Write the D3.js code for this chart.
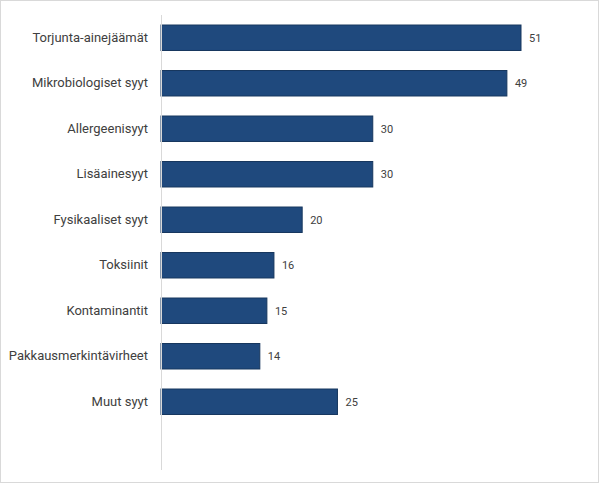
<!DOCTYPE html>
<html>
<head>
<meta charset="utf-8">
<script src="https://cdnjs.cloudflare.com/ajax/libs/d3/7.8.5/d3.min.js"></script>
<style>
  body { margin: 0; background: #fff; }
  text { font-family: Roboto, "Liberation Sans", sans-serif; }
</style>
</head>
<body>
<div id="chart"></div>
<script>
// categories and values, top to bottom
let categories = ["Torjunta-ainejäämät", "Mikrobiologiset syyt", "Allergeenisyyt", "Lisäainesyyt",
    "Fysikaaliset syyt", "Toksiinit", "Kontaminantit", "Pakkausmerkintävirheet", "Muut syyt"];
let values = [51, 49, 30, 30, 20, 16, 15, 14, 25];

let width = 600;
let height = 485;

let svg = d3.select("#chart")
    .append("svg")
    .attr("width", width)
    .attr("height", height);

// chart border
svg.append("rect")
    .attr("x", 0.5)
    .attr("y", 0.5)
    .attr("width", width - 2)
    .attr("height", height - 3)
    .attr("fill", "#fff")
    .attr("stroke", "#d9d9d9");

let x0 = 161;
// one empty slot after the last category, like the original
let slots = categories.concat([""]);

let x_scale = d3.scaleLinear()
    .domain([0, 51])
    .range([x0, 521]);

let y_scale = d3.scaleBand()
    .domain(slots)
    .range([15, 470])
    .paddingInner(0.44)
    .paddingOuter(0.22);

let rows = svg.selectAll(".bar_rows")
    .data(categories)
    .enter()
    .append("g")
    .attr("class", "bar_rows");

rows.append("rect")
    .attr("x", x_scale(0))
    .attr("y", d => y_scale(d))
    .attr("width", (d, i) => x_scale(values[i]) - x_scale(0))
    .attr("height", y_scale.bandwidth())
    .attr("fill", "#1f497d")
    .attr("stroke", "#17375e")
    .attr("stroke-width", 1);

rows.append("text")
    .attr("x", (d, i) => x_scale(values[i]) + 8)
    .attr("y", d => y_scale(d) + y_scale.bandwidth() / 2)
    .attr("dy", "0.35em")
    .style("font-size", "11px")
    .attr("fill", "#404040")
    .text((d, i) => values[i]);

// category axis
let y_axis = d3.axisLeft(y_scale)
    .tickSize(0)
    .tickPadding(13)
    .tickFormat(d => d);

let ax = svg.append("g")
    .attr("transform", `translate(${x0},0)`)
    .call(y_axis);

ax.select(".domain")
    .attr("d", "M0.5,15V470")
    .attr("stroke", "#d9d9d9");

ax.selectAll("text")
    .style("font-size", "13px")
    .style("font-family", "Roboto, 'Liberation Sans', sans-serif")
    .attr("fill", "#404040");
</script>
</body>
</html>
